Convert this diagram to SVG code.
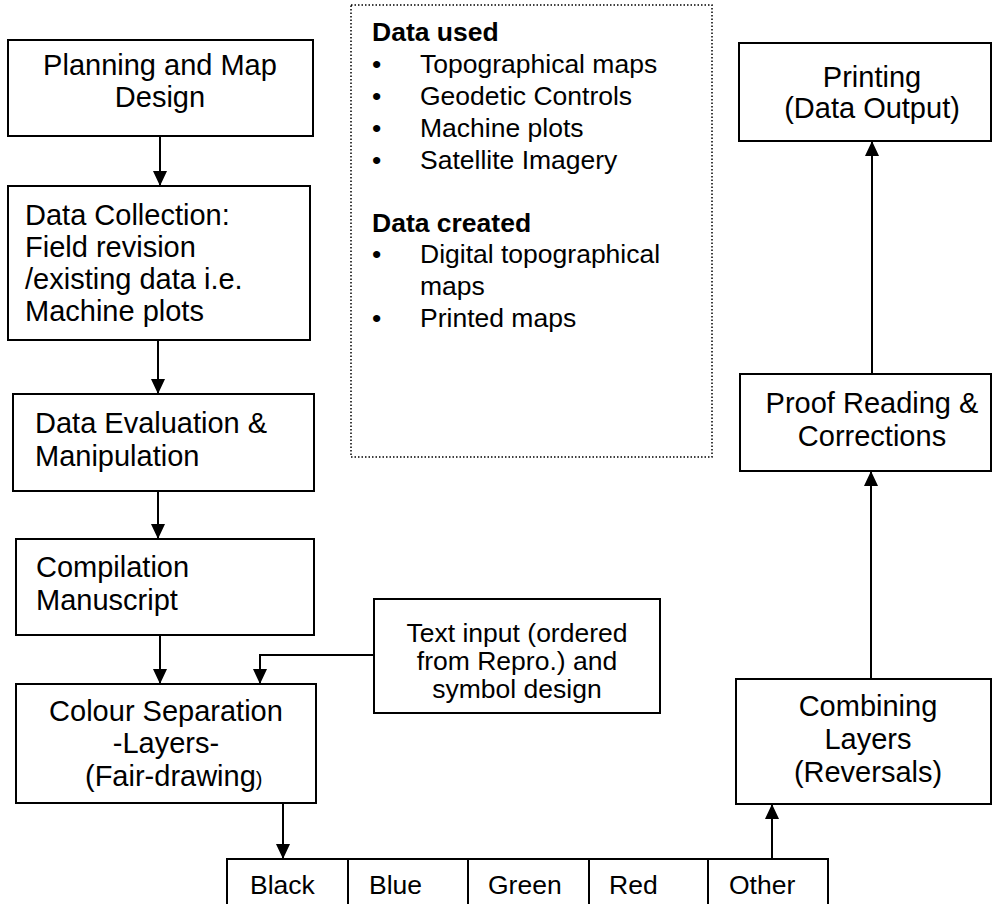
<svg xmlns="http://www.w3.org/2000/svg" width="993" height="904" viewBox="0 0 993 904">
  <style>
    .box { fill: #ffffff; stroke: #000000; stroke-width: 2; }
    .note { fill: none; stroke: #000000; stroke-width: 1.5; stroke-dasharray: 1.5 2; }
    .t { font-family: "Liberation Sans", Arial, sans-serif; font-size: 29px; fill: #000000; }
    .s { font-family: "Liberation Sans", Arial, sans-serif; font-size: 26.5px; fill: #000000; }
    .b { font-family: "Liberation Sans", Arial, sans-serif; font-size: 26.5px; font-weight: bold; fill: #000000; }
    .c { text-anchor: middle; }
    .link { fill: none; stroke: #000000; stroke-width: 2; }
  </style>
  <defs>
    <marker id="head" markerUnits="userSpaceOnUse" markerWidth="15" markerHeight="14" refX="15" refY="7" orient="auto">
      <path d="M0,0 L15,7 L0,14 z" fill="#000000"/>
    </marker>
  </defs>
  <rect width="993" height="904" fill="#ffffff"/>

  <!-- data notes panel -->
  <g id="data-notes">
    <rect class="note" x="351" y="5" width="361" height="452"/>
    <text class="b" x="372" y="41">Data used</text>
    <g class="s">
      <text x="372" y="73">•</text><text x="420" y="73">Topographical maps</text>
      <text x="372" y="105">•</text><text x="420" y="105">Geodetic Controls</text>
      <text x="372" y="137">•</text><text x="420" y="137">Machine plots</text>
      <text x="372" y="169">•</text><text x="420" y="169">Satellite Imagery</text>
    </g>
    <text class="b" x="372" y="232">Data created</text>
    <g class="s">
      <text x="372" y="263">•</text><text x="420" y="263">Digital topographical</text>
      <text x="420" y="295">maps</text>
      <text x="372" y="327">•</text><text x="420" y="327">Printed maps</text>
    </g>
  </g>

  <!-- left column -->
  <g id="planning">
    <rect class="box" x="8" y="40" width="305" height="96"/>
    <text class="t c" x="160" y="75">Planning and Map</text>
    <text class="t c" x="160" y="107">Design</text>
  </g>
  <g id="collection">
    <rect class="box" x="8" y="186" width="302" height="154"/>
    <text class="t" x="25" y="225">Data Collection:</text>
    <text class="t" x="25" y="257">Field revision</text>
    <text class="t" x="25" y="289">/existing data i.e.</text>
    <text class="t" x="25" y="321">Machine plots</text>
  </g>
  <g id="evaluation">
    <rect class="box" x="13" y="394" width="301" height="97"/>
    <text class="t" x="35" y="433">Data Evaluation &amp;</text>
    <text class="t" x="35" y="466">Manipulation</text>
  </g>
  <g id="compilation">
    <rect class="box" x="16" y="539" width="298" height="96"/>
    <text class="t" x="36" y="577">Compilation</text>
    <text class="t" x="36" y="610">Manuscript</text>
  </g>
  <g id="text-input">
    <rect class="box" x="374" y="599" width="286" height="114"/>
    <text class="s c" x="517" y="642">Text input (ordered</text>
    <text class="s c" x="517" y="670">from Repro.) and</text>
    <text class="s c" x="517" y="698">symbol design</text>
  </g>
  <g id="separation">
    <rect class="box" x="16" y="684" width="300" height="119"/>
    <text class="t c" x="166" y="721">Colour Separation</text>
    <text class="t c" x="166" y="753">-Layers-</text>
    <text class="t" x="85" y="786">(Fair-drawing<tspan font-size="20">)</tspan></text>
  </g>

  <!-- colour layers -->
  <g id="layers">
    <rect class="box" x="227" y="859" width="601" height="60"/>
    <path class="link" d="M348,859 V904 M468,859 V904 M589,859 V904 M708,859 V904"/>
    <text class="s" x="250" y="894">Black</text>
    <text class="s" x="369" y="894">Blue</text>
    <text class="s" x="488" y="894">Green</text>
    <text class="s" x="609" y="894">Red</text>
    <text class="s" x="729" y="894">Other</text>
  </g>

  <!-- right column -->
  <g id="combining">
    <rect class="box" x="736" y="679" width="255" height="125"/>
    <text class="t c" x="868" y="716">Combining</text>
    <text class="t c" x="868" y="749">Layers</text>
    <text class="t c" x="868" y="782">(Reversals)</text>
  </g>
  <g id="proofing">
    <rect class="box" x="740" y="374" width="251" height="97"/>
    <text class="t c" x="872" y="413">Proof Reading &amp;</text>
    <text class="t c" x="872" y="446">Corrections</text>
  </g>
  <g id="printing">
    <rect class="box" x="739" y="43" width="252" height="98"/>
    <text class="t c" x="872" y="87">Printing</text>
    <text class="t c" x="872" y="118">(Data Output)</text>
  </g>

  <!-- connectors -->
  <g id="connectors">
    <path class="link" d="M160,136 V186" marker-end="url(#head)"/>
    <path class="link" d="M158,340 V394" marker-end="url(#head)"/>
    <path class="link" d="M158,491 V539" marker-end="url(#head)"/>
    <path class="link" d="M160,635 V684" marker-end="url(#head)"/>
    <path class="link" d="M374,655 H260 V684" marker-end="url(#head)"/>
    <path class="link" d="M283,803 V859" marker-end="url(#head)"/>
    <path class="link" d="M772,859 V804" marker-end="url(#head)"/>
    <path class="link" d="M871,679 V471" marker-end="url(#head)"/>
    <path class="link" d="M872,374 V141" marker-end="url(#head)"/>
  </g>
</svg>
